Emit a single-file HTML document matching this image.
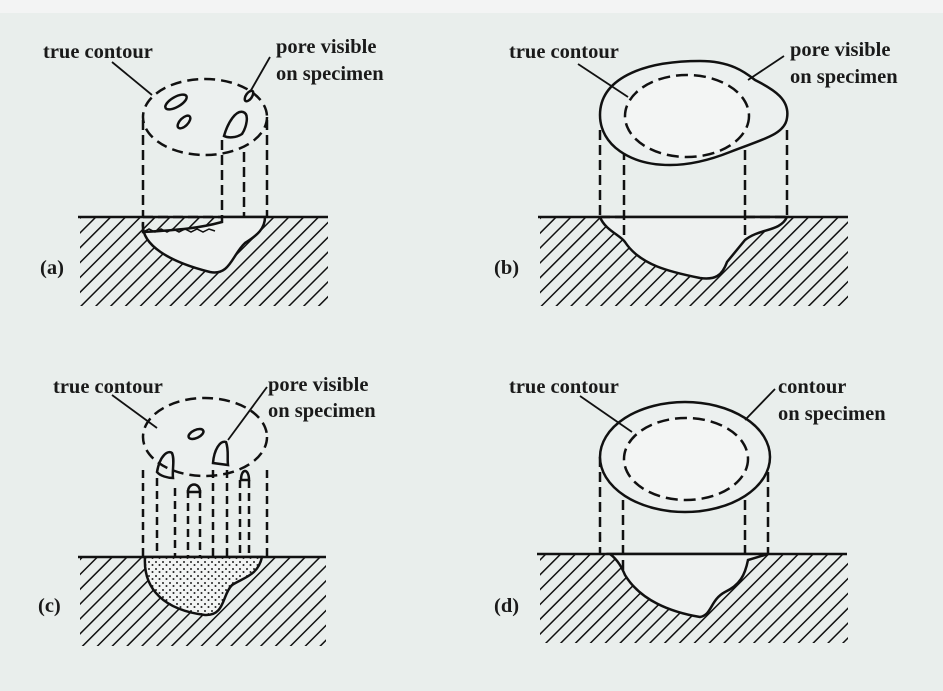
<!DOCTYPE html>
<html><head><meta charset="utf-8"><style>
html,body{margin:0;padding:0;background:#e9eeec;}
svg{display:block}
text{font-family:"Liberation Serif",serif;font-weight:bold;font-size:20.5px;fill:#1a1a1a}
</style></head><body>
<svg width="943" height="691" viewBox="0 0 943 691" xmlns="http://www.w3.org/2000/svg">
<defs>
<pattern id="h" patternUnits="userSpaceOnUse" width="10.5" height="10.5" patternTransform="rotate(45)">
<rect width="10.5" height="10.5" fill="#e9eeec"/>
<line x1="0" y1="0" x2="0" y2="10.5" stroke="#111" stroke-width="3"/>
</pattern>
<pattern id="dots" patternUnits="userSpaceOnUse" width="7" height="7">
<rect width="7" height="7" fill="#f2f4f3"/>
<circle cx="2" cy="2" r="1" fill="#222"/><circle cx="5.5" cy="5" r="1" fill="#222"/>
</pattern>
</defs>
<rect width="943" height="691" fill="#e9eeec"/>
<rect width="943" height="13" fill="#f3f4f4"/>
<g stroke="#111" stroke-width="2.5" fill="none">

<!-- (a) -->
<rect x="80" y="218" width="248" height="88" fill="url(#h)" stroke="none"/>
<line x1="78" y1="217" x2="328" y2="217"/>
<path d="M143 222 C140 245 170 262 210 272 C230 276 232 255 245 243 C258 235 265 228 265 217 L222 217 L222 222 C200 228 180 230 143 232 Z" fill="#eef1f0"/>
<path d="M143 232 l6 -3 l6 3 l6 -3 l6 3 l6 -3 l6 3 l6 -3 l6 3 l6 -3 l6 3 l6 -3 l6 2" stroke-width="1.5"/>
<ellipse cx="205" cy="117" rx="62" ry="38" stroke-dasharray="11,6" fill="#ecf0ef"/>
<g stroke-dasharray="10,5">
<line x1="143" y1="120" x2="143" y2="217"/><line x1="222" y1="140" x2="222" y2="217"/>
<line x1="244" y1="152" x2="244" y2="217"/><line x1="267" y1="120" x2="267" y2="217"/>
<line x1="143" y1="217" x2="222" y2="217"/>
</g>
<ellipse cx="176" cy="102" rx="12" ry="5" transform="rotate(-30 176 102)"/>
<ellipse cx="184" cy="122" rx="8" ry="4" transform="rotate(-45 184 122)"/>
<path d="M224 136 C228 122 236 110 243 112 C250 114 246 128 242 134 C236 138 228 138 224 136Z"/>
<ellipse cx="249" cy="96" rx="6" ry="3" transform="rotate(-55 249 96)"/>
<line x1="112" y1="62" x2="152" y2="95" stroke-width="1.8"/>
<line x1="270" y1="57" x2="250" y2="92" stroke-width="1.8"/>

<!-- (b) -->
<rect x="540" y="218" width="308" height="88" fill="url(#h)" stroke="none"/>
<line x1="538" y1="217" x2="848" y2="217"/>
<path d="M600 217 C605 230 620 235 625 242 C640 265 670 272 700 278 C715 280 722 276 727 262 L745 240 C760 228 780 232 787 217 Z" fill="#eef1f0"/>
<g stroke-dasharray="10,5">
<line x1="600" y1="130" x2="600" y2="217"/><line x1="624" y1="120" x2="624" y2="240"/>
<line x1="745" y1="120" x2="745" y2="240"/><line x1="787" y1="130" x2="787" y2="217"/>
<line x1="745" y1="217" x2="787" y2="217"/><line x1="600" y1="217" x2="624" y2="217"/>
</g>
<path d="M600 115 C600 80 640 61 700 61 C730 61 745 72 755 80 C775 90 790 100 787 118 C785 135 760 140 730 152 C710 160 690 165 670 165 C630 165 600 145 600 115Z" fill="#ecf0ef"/>
<ellipse cx="687" cy="116" rx="62" ry="41" stroke-dasharray="12,6" fill="#f3f5f4"/>
<line x1="578" y1="64" x2="628" y2="97" stroke-width="1.8"/>
<line x1="784" y1="56" x2="748" y2="80" stroke-width="1.8"/>

<!-- (c) -->
<rect x="80" y="558" width="246" height="88" fill="url(#h)" stroke="none"/>
<line x1="78" y1="557" x2="326" y2="557"/>
<path d="M145 557 C143 590 165 610 205 615 C225 616 222 595 232 585 C245 577 258 575 262 557 Z" fill="url(#dots)"/>
<ellipse cx="205" cy="437" rx="62" ry="39" stroke-dasharray="11,6" fill="#ecf0ef"/>
<g stroke-dasharray="8,5">
<line x1="143" y1="470" x2="143" y2="557"/><line x1="157" y1="478" x2="157" y2="557"/>
<line x1="175" y1="488" x2="175" y2="557"/><line x1="188" y1="490" x2="188" y2="557"/>
<line x1="200" y1="490" x2="200" y2="557"/><line x1="213" y1="470" x2="213" y2="557"/>
<line x1="227" y1="470" x2="227" y2="557"/><line x1="240" y1="480" x2="240" y2="557"/>
<line x1="249" y1="480" x2="249" y2="557"/><line x1="267" y1="470" x2="267" y2="557"/>
</g>
<path d="M157 472 C160 455 168 450 172 453 C175 460 172 470 173 478 C168 478 160 476 157 472Z"/>
<path d="M213 463 C214 450 220 440 226 442 C229 450 227 458 228 465 Z"/>
<path d="M188 492 C188 482 200 482 200 492Z"/>
<path d="M241 480 C241 468 249 468 249 480Z"/>
<ellipse cx="196" cy="434" rx="8" ry="4" transform="rotate(-25 196 434)"/>
<line x1="112" y1="395" x2="157" y2="428" stroke-width="1.8"/>
<line x1="267" y1="387" x2="228" y2="440" stroke-width="1.8"/>

<!-- (d) -->
<rect x="540" y="555" width="308" height="88" fill="url(#h)" stroke="none"/>
<line x1="537" y1="554" x2="847" y2="554"/>
<path d="M610 554 C618 560 622 568 625 575 C640 600 670 612 700 617 C712 615 710 600 725 592 C740 585 745 575 748 560 L768 554 Z" fill="#eef1f0"/>
<g stroke-dasharray="10,5">
<line x1="600" y1="457" x2="600" y2="554"/><line x1="623" y1="470" x2="623" y2="575"/>
<line x1="745" y1="470" x2="745" y2="560"/><line x1="768" y1="457" x2="768" y2="554"/>
</g>
<ellipse cx="685" cy="457" rx="85" ry="55" fill="#ecf0ef"/>
<ellipse cx="686" cy="459" rx="62" ry="41" stroke-dasharray="12,6" fill="#f3f5f4"/>
<line x1="580" y1="396" x2="632" y2="432" stroke-width="1.8"/>
<line x1="775" y1="389" x2="745" y2="420" stroke-width="1.8"/>
</g>

<text x="43" y="58">true contour</text>
<text x="276" y="53">pore visible</text>
<text x="276" y="80">on specimen</text>
<text x="40" y="274">(a)</text>
<text x="509" y="58">true contour</text>
<text x="790" y="56">pore visible</text>
<text x="790" y="83">on specimen</text>
<text x="494" y="274">(b)</text>
<text x="53" y="393">true contour</text>
<text x="268" y="391">pore visible</text>
<text x="268" y="417">on specimen</text>
<text x="38" y="612">(c)</text>
<text x="509" y="393">true contour</text>
<text x="778" y="393">contour</text>
<text x="778" y="420">on specimen</text>
<text x="494" y="612">(d)</text>
</svg>
</body></html>
